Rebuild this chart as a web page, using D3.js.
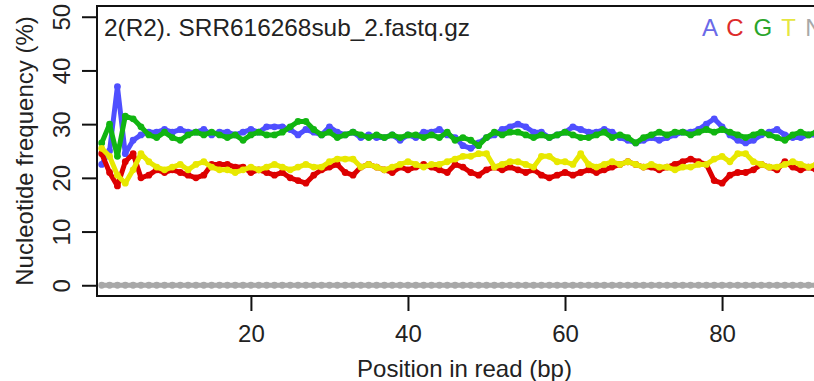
<!DOCTYPE html>
<html>
<head>
<meta charset="utf-8">
<script src="https://cdn.jsdelivr.net/npm/d3@7"></script>
<style>
  html, body { margin: 0; padding: 0; background: #fff; }
  svg { display: block; }
  text { font-family: "Liberation Sans", Arial, sans-serif; }
</style>
</head>
<body>
<svg id="chart" width="814" height="381"></svg>
<script>
// ---- Data ----
const positions = d3.range(1, 94); // positions 1..93 visible
const seriesNames = ["A", "C", "G", "T", "N"];
const seriesColors = ["#4f4fff", "#dd0000", "#11b511", "#e8e800", "#a8a8a8"];
const legendColors = ["#6a6ae8", "#dd2b2b", "#2aa52a", "#e6e640", "#a8a8a8"];

const valuesA = [22.5,25,37,24.5,27,28,28.5,28.5,29,28.5,29,28.5,28.5,29,28,28.5,28.5,28,28.5,29,28.5,29.5,29.5,29.5,29,28,29,28.5,28,29.5,28.5,28,28.5,27.5,28,27.5,27.5,28,27,28,27.5,28.5,28.5,29,28,27.5,26,25.5,26.5,27.5,28,29,29.5,30,29.5,28.5,28.5,27.5,28,28.5,29.5,29,28.5,28.5,29,28.5,27.5,27,26.5,27,27.5,27,27.5,28,28.5,28.5,29,30,31,29.5,28,27,26.5,27,28,28.5,29,28,27.5,27.5,28,28,28];
const valuesC = [24.5,21,18.5,23,24.5,20,20.5,21.5,21,21.5,21,20.5,20,20.5,22.5,22.5,22.5,22,22,21,21.5,21,20.5,21,20,19.5,19,20.5,21.5,22,22.5,21,20.5,22,22.5,22,21.5,21,22,21.5,22,22.5,22,21.5,21,22.5,22,21,20.5,21.5,22,21.5,22,21.5,21,21.5,20.5,20,20.5,21,20.5,21,21.5,21,21.5,22,22.5,23,22.5,22,22,21.5,22,22.5,23,23.5,23,22.5,19.5,19,20.5,21,21,21.5,22.5,22,21.5,23,22,21.5,22,21.5,22];
const valuesG = [26.5,30,24,31.5,31,29.5,28,27.5,28.5,27.5,27,28,28.5,28,28.5,28,27.5,28,27,28,28.5,28,28,28.5,29.5,30.5,30.5,29,28,28.5,27.5,28,28.5,28,27.5,28,27.5,28,27.5,28,28,27.5,28,27.5,28.5,27,27.5,27,26,27.5,28.5,28,28.5,28.5,28,27.5,28,27.5,28,28.5,28,27.5,27.5,28,28.5,27.5,28,27.5,26.5,27.5,28,28.5,28,28.5,28.5,28,28.5,29,28.5,29,28.5,28,27.5,28,28.5,28,27.5,27,28,28.5,28,28.5,28];
const valuesT = [25.5,24,20.5,19,21.5,24.5,23,22,21.5,22,22.5,21.5,22.5,23,22,21.5,21.5,21,21.5,22,21.5,22,22.5,22,21.5,22,22.5,22,22,23,23.5,23.5,23.5,22,22.5,22,21.5,22,22.5,23,22.5,22,22.5,22.5,23,23.5,24,24,24.5,24.5,22,22.5,23,23,22.5,22,24,24,23,23,22.5,24.5,22.5,22,22.5,23,22.5,23,22.5,22,22.5,22,22,21.5,22,22,22.5,22.5,23.5,24,23,24.5,24.5,23,22.5,22,22,22.5,23,22.5,22,22.5,22];
const valuesN = positions.map(() => 0);
const seriesValues = [valuesA, valuesC, valuesG, valuesT, valuesN];

const yTicks = [0, 10, 20, 30, 40, 50];
const xTicks = [20, 40, 60, 80];
const titleText = "2(R2). SRR616268sub_2.fastq.gz";
const xLabel = "Position in read (bp)";
const yLabel = "Nucleotide frequency (%)";

// ---- Layout ----
const svg = d3.select("#chart");
const plot = { left: 97, top: 6, bottom: 296, right: 832 };
const x = d3.scaleLinear().domain([0.4, 94]).range([plot.left, plot.right]);
const y = d3.scaleLinear().domain([-2, 52]).range([plot.bottom, plot.top]);
const fontSize = 24;

svg.append("rect").attr("width", 814).attr("height", 381).attr("fill", "#fff");

svg.append("clipPath").attr("id", "clip")
  .append("rect")
  .attr("x", plot.left).attr("y", plot.top)
  .attr("width", plot.right - plot.left).attr("height", plot.bottom - plot.top);

// ---- Series ----
const g = svg.append("g").attr("clip-path", "url(#clip)");
const line = d3.line().x(d => x(d[0])).y(d => y(d[1]));
const order = [4, 0, 1, 2, 3];
order.forEach(i => {
  const pts = positions.map((p, j) => [p, seriesValues[i][j]]);
  const sg = g.append("g");
  sg.append("path").datum(pts)
    .attr("d", line)
    .attr("fill", "none")
    .attr("stroke", seriesColors[i])
    .attr("stroke-width", 5)
    .attr("stroke-linejoin", "round");
  sg.selectAll("circle").data(pts).join("circle")
    .attr("cx", d => x(d[0])).attr("cy", d => y(d[1]))
    .attr("r", 3.4)
    .attr("fill", seriesColors[i]);
});

// ---- Box ----
svg.append("rect")
  .attr("x", plot.left).attr("y", plot.top)
  .attr("width", plot.right - plot.left).attr("height", plot.bottom - plot.top)
  .attr("fill", "none").attr("stroke", "#111").attr("stroke-width", 2);

// ---- Axes ----
const yAxis = d3.axisLeft(y).tickValues(yTicks).tickSize(15).tickPadding(0).tickFormat(d3.format("d"));
const ya = svg.append("g").attr("transform", `translate(${plot.left},0)`).call(yAxis);
ya.select(".domain").remove();
ya.selectAll(".tick line").attr("stroke", "#111").attr("stroke-width", 2);
ya.selectAll(".tick text")
  .attr("x", null).attr("dy", null)
  .attr("transform", "translate(-27,0) rotate(-90)")
  .attr("text-anchor", "middle")
  .attr("font-size", fontSize)
  .attr("font-family", "Liberation Sans, Arial, sans-serif")
  .attr("fill", "#222");

const xAxis = d3.axisBottom(x).tickValues(xTicks).tickSize(15).tickPadding(0).tickFormat(d3.format("d"));
const xa = svg.append("g").attr("transform", `translate(0,${plot.bottom})`).call(xAxis);
xa.select(".domain").remove();
xa.selectAll(".tick line").attr("stroke", "#111").attr("stroke-width", 2);
xa.selectAll(".tick text")
  .attr("y", 46).attr("dy", null)
  .attr("font-size", fontSize)
  .attr("font-family", "Liberation Sans, Arial, sans-serif")
  .attr("fill", "#222");

// ---- Labels ----
svg.append("text")
  .attr("x", (plot.left + plot.right) / 2).attr("y", 377)
  .attr("text-anchor", "middle").attr("font-size", fontSize).attr("fill", "#222")
  .text(xLabel);

svg.append("text")
  .attr("transform", `translate(33,${(plot.top + plot.bottom) / 2}) rotate(-90)`)
  .attr("text-anchor", "middle").attr("font-size", fontSize).attr("fill", "#222")
  .text(yLabel);

svg.append("text")
  .attr("x", 104).attr("y", 36)
  .attr("font-size", fontSize).attr("fill", "#222")
  .attr("textLength", 366).attr("lengthAdjust", "spacingAndGlyphs")
  .text(titleText);

const leg = svg.append("text").attr("x", 702).attr("y", 36)
  .attr("font-size", fontSize).attr("word-spacing", 3).attr("xml:space", "preserve");
seriesNames.forEach((n, i) => {
  leg.append("tspan").attr("fill", legendColors[i]).text(n);
  if (i < seriesNames.length - 1) leg.append("tspan").text(" ");
});
</script>
</body>
</html>
